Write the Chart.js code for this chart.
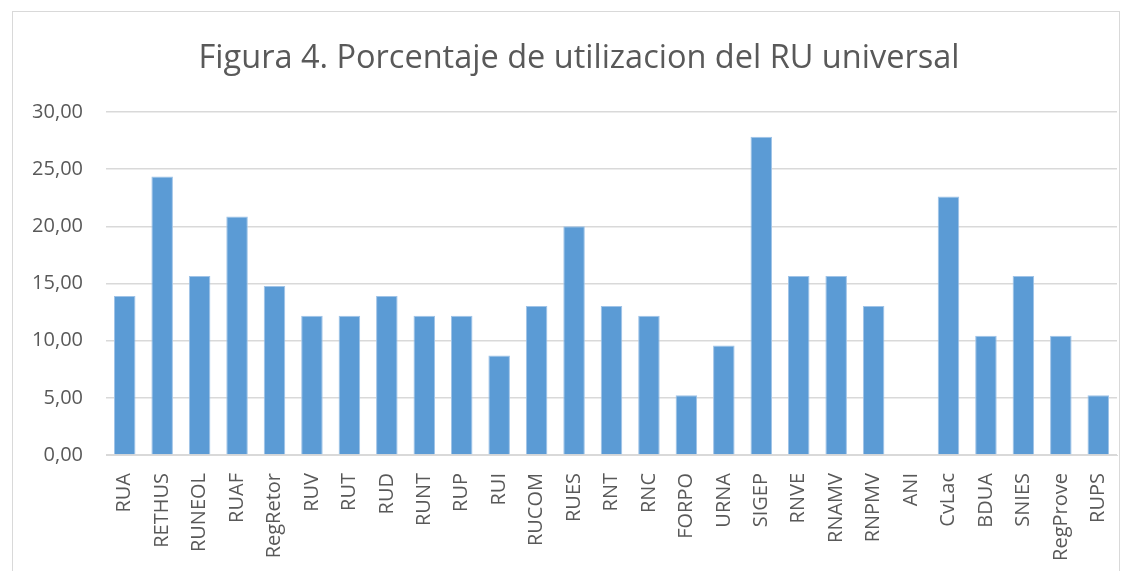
<!DOCTYPE html>
<html>
<head>
<meta charset="utf-8">
<script src="https://cdn.jsdelivr.net/npm/chart.js@4"></script>
<style>
  html, body { margin: 0; padding: 0; background: #fff; }
  #wrap { position: relative; width: 1133px; height: 571px; }
  #frame { position: absolute; left: 12px; top: 11px; width: 1108px; height: 600px;
           border: 1px solid #d9d9d9; box-sizing: border-box; pointer-events: none; }
</style>
</head>
<body>
<div id="wrap">
  <canvas id="chart" width="1133" height="571"></canvas>
  <div id="frame"></div>
</div>
<script>
// datos
const registros = ['RUA', 'RETHUS', 'RUNEOL', 'RUAF', 'RegRetor', 'RUV', 'RUT', 'RUD', 'RUNT', 'RUP',
  'RUI', 'RUCOM', 'RUES', 'RNT', 'RNC', 'FORPO', 'URNA', 'SIGEP', 'RNVE', 'RNAMV', 'RNPMV', 'ANI',
  'CvLac', 'BDUA', 'SNIES', 'RegProve', 'RUPS'];
const porcentajes = [13.91, 24.35, 15.65, 20.87, 14.78, 12.17, 12.17, 13.91, 12.17, 12.17,
  8.70, 13.04, 20.00, 13.04, 12.17, 5.22, 9.57, 27.83, 15.65, 15.65, 13.04, 0,
  22.61, 10.43, 15.65, 10.43, 5.22];
const yTicks = [0, 5, 10, 15, 20, 25, 30];
const titulo = 'Figura 4. Porcentaje de utilizacion del RU universal';

const fmt = v => Number(v).toFixed(2).replace('.', ',');
const gris = '#595959';

// titulo centrado sobre el marco, no sobre el canvas
const tituloPlugin = {
  id: 'tituloMarco',
  afterDraw(chart) {
    const ctx = chart.ctx;
    ctx.save();
    ctx.font = '32.5px "Open Sans"';
    ctx.fillStyle = gris;
    ctx.textAlign = 'center';
    ctx.textBaseline = 'middle';
    ctx.fillText(titulo, 579, 59);
    ctx.restore();
  }
};

new Chart(document.getElementById('chart'), {
  type: 'bar',
  data: {
    labels: registros,
    datasets: [{
      data: porcentajes,
      backgroundColor: '#5b9bd5',
      borderColor: '#9fc3e7',
      borderWidth: 1,
      barPercentage: 0.575,
      categoryPercentage: 1
    }]
  },
  options: {
    responsive: false,
    animation: false,
    layout: { padding: { left: 0, right: 16, top: 112, bottom: 0 } },
    plugins: {
      legend: { display: false },
      title: { display: false },
      tooltip: { callbacks: { label: c => fmt(c.raw) } }
    },
    scales: {
      x: {
        grid: { display: false },
        border: { display: true, color: '#d9d9d9', width: 1 },
        ticks: {
          color: gris,
          font: { family: 'Open Sans', size: 20 },
          minRotation: 90, maxRotation: 90,
          autoSkip: false,
          padding: 10
        },
        afterFit: s => { s.height = 116; }
      },
      y: {
        min: 0, max: 30,
        afterBuildTicks: s => { s.ticks = yTicks.map(v => ({ value: v })); },
        grid: { color: '#d9d9d9', lineWidth: 1.5, drawTicks: false },
        border: { display: false },
        ticks: {
          color: gris,
          font: { family: 'Open Sans', size: 20 },
          padding: 23,
          callback: v => fmt(v)
        },
        afterFit: s => { s.width = 106; }
      }
    }
  },
  plugins: [tituloPlugin]
});
</script>
</body>
</html>
